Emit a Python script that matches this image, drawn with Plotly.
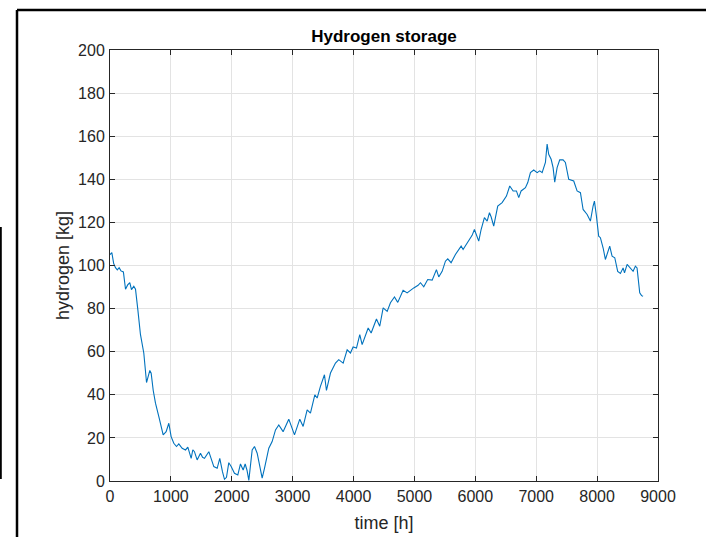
import plotly.graph_objects as go

# time [h] and hydrogen [kg]
time_h = [0, 30, 60, 90, 120, 150, 180, 220, 255, 290, 325, 353, 391, 419, 457, 500, 555, 600,
          654, 676, 710, 747, 802, 840, 873, 922, 966, 1004, 1048, 1092, 1130, 1185, 1240, 1278,
          1333, 1360, 1387, 1431, 1486, 1520, 1552, 1623, 1705, 1760, 1803, 1847, 1880, 1913,
          1951, 1990, 2044, 2099, 2143, 2187, 2220, 2250, 2280, 2335, 2373, 2417, 2460, 2499,
          2537, 2608, 2663, 2718, 2772, 2843, 2936, 3030, 3117, 3172, 3238, 3292, 3364, 3402,
          3456, 3522, 3555, 3621, 3703, 3757, 3829, 3895, 3949, 3993, 4048, 4102, 4141, 4240,
          4289, 4376, 4430, 4486, 4552, 4606, 4672, 4726, 4814, 4880, 4989, 5060, 5099, 5153,
          5218, 5291, 5361, 5399, 5455, 5509, 5547, 5602, 5673, 5767, 5799, 5865, 5947, 5985,
          6056, 6095, 6149, 6194, 6232, 6259, 6302, 6368, 6440, 6511, 6565, 6621, 6675, 6713,
          6752, 6823, 6861, 6905, 6959, 7015, 7058, 7097, 7151, 7179, 7205, 7245, 7277, 7304,
          7343, 7386, 7441, 7479, 7534, 7616, 7671, 7726, 7770, 7836, 7890, 7934, 7956, 7989,
          8026, 8054, 8100, 8136, 8174, 8207, 8246, 8290, 8338, 8383, 8427, 8450, 8493, 8547,
          8591, 8629, 8656, 8700, 8730, 8755]
hydrogen_kg = [105, 106, 101, 99, 98, 99, 97.5, 97, 89, 91, 92, 88.8, 90.4, 89, 79.5, 68, 59.4, 45.7,
               51.3, 50, 42, 36.1, 29.9, 25, 21.4, 22.9, 26.8, 20.6, 17.5, 16, 17.2, 15.2, 14.4, 15.7,
               10.5, 14.5, 13.6, 9.8, 12.9, 11, 10.5, 13.6, 6.7, 5.9, 10.5, 4.3, 0.8, 1.7,
               8.5, 6.7, 3.6, 2.8, 7.9, 5.1, 7.9, 5, 0.3, 14.4, 16, 12.9, 6.7, 1.3,
               5.9, 15.2, 18.3, 23.7, 26, 22.9, 28.7, 21.4, 28.7, 25.3, 33, 31.5, 40, 38.5,
               43.9, 49.3, 42, 50.1, 54.7, 56.3, 54.7, 60.9, 59.4, 62.2, 61.7, 67.9, 63.3, 71,
               68.7, 75.2, 71.8, 80.3, 78.7, 82.7, 85.4, 82.9, 88.5, 87.3, 89.6, 90.8, 92, 90.1,
               93.5, 93.2, 98.1, 94.7, 97.3, 102, 103.1, 101.3, 105.1, 109, 107.4, 110.6, 114, 116.7,
               111.3, 116.7, 122.2, 120.6, 124.5, 122.6, 118.3, 127.6, 129.2, 132.2, 136.9, 134.6, 134.6, 131.5,
               134.6, 136.1, 138.5, 143.1, 144.3, 143.1, 143.9, 143.1, 147.8, 156.3, 151.6, 149.3, 145.4, 138.7,
               145.4, 149, 149, 147.8, 140, 139.2, 134.6, 133.8, 126, 123.7, 120.6, 127.6, 129.9, 122.9,
               113.6, 112.9, 108, 102.8, 106.7, 109, 104.3, 103.6, 97.3, 96.3, 98.9, 96.6, 100.5, 98.9,
               97.3, 99.7, 98.9, 87.3, 86, 85.7]

x_ticks = [0, 1000, 2000, 3000, 4000, 5000, 6000, 7000, 8000, 9000]
y_ticks = [0, 20, 40, 60, 80, 100, 120, 140, 160, 180, 200]

FONT = "Liberation Sans, Arial, Helvetica, sans-serif"
AX = "#262626"

fig = go.Figure()
fig.add_trace(go.Scatter(x=time_h, y=hydrogen_kg, mode="lines",
                         line=dict(color="#0072BD", width=1.1), showlegend=False))

axis_common = dict(
    showline=True, linecolor=AX, linewidth=1, mirror="ticks",
    ticks="inside", ticklen=5, tickwidth=1, tickcolor=AX,
    showgrid=True, gridcolor="#e3e3e3", gridwidth=1, automargin=False,
    zeroline=False, tickfont=dict(family=FONT, size=16, color=AX),
)

fig.update_layout(
    width=706, height=537,
    margin=dict(l=110, r=48, t=50, b=56),
    paper_bgcolor="white", plot_bgcolor="white",
    title=dict(text="<b>Hydrogen storage</b>", x=384 / 706, xanchor="center",
               y=1 - 36 / 537, yanchor="middle", yref="container",
               font=dict(family=FONT, size=17, color="black")),
    xaxis=dict(range=[0, 9000], tickvals=x_ticks, ticktext=[str(v) for v in x_ticks],
               ticklabelstandoff=1,
               title=dict(text="time [h]", font=dict(family=FONT, size=18, color=AX), standoff=12),
               **axis_common),
    yaxis=dict(range=[0, 200], tickvals=y_ticks, ticktext=[str(v) for v in y_ticks],
               ticklabelstandoff=1,
               title=dict(text="hydrogen [kg]", font=dict(family=FONT, size=18, color=AX), standoff=3),
               **axis_common),
)

# decorative frame lines (page border fragments around the figure)
W, H = 548.0, 431.0
def px_x(p):
    return (p - 110) / W
def px_y(p):
    return (481 - p) / H

fig.add_shape(type="line", xref="paper", yref="paper",
              x0=px_x(17), x1=px_x(706), y0=px_y(10), y1=px_y(10),
              line=dict(color="black", width=2.5))
fig.add_shape(type="line", xref="paper", yref="paper",
              x0=px_x(17), x1=px_x(17), y0=px_y(10), y1=px_y(540),
              line=dict(color="black", width=2.5))
fig.add_shape(type="line", xref="paper", yref="paper",
              x0=px_x(0.8), x1=px_x(0.8), y0=px_y(227), y1=px_y(479),
              line=dict(color="black", width=2))

fig.write_html("out.html")
